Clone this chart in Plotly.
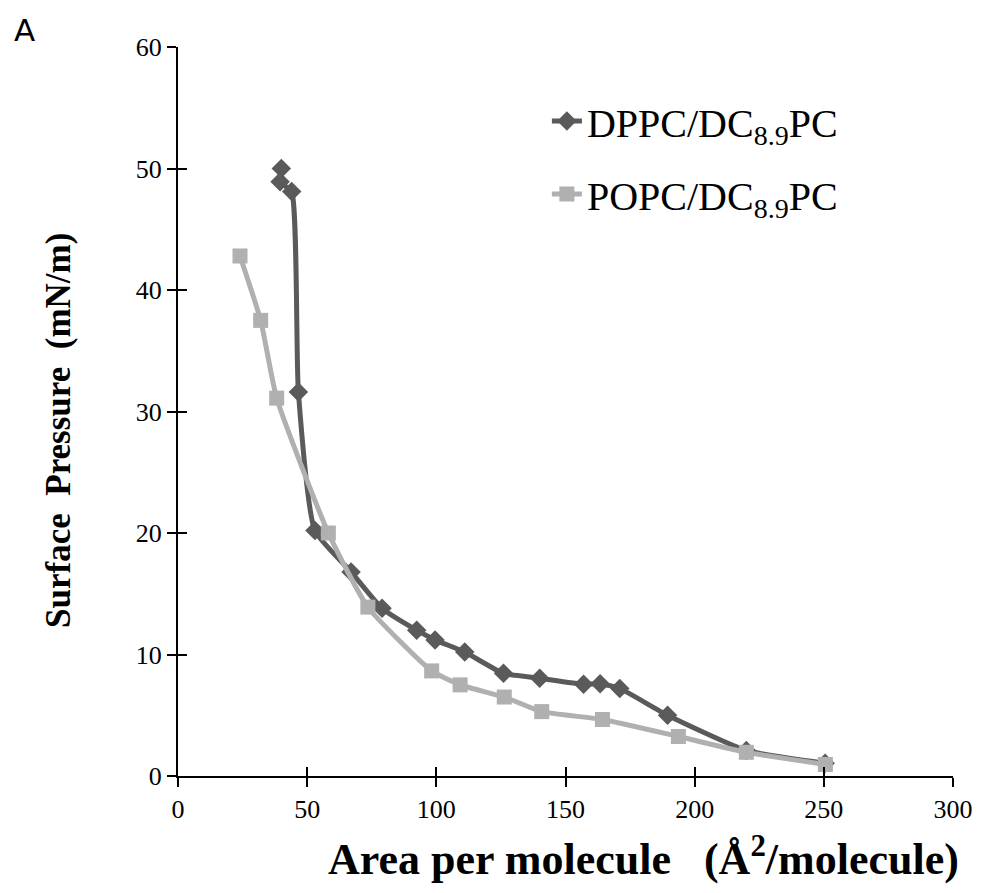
import plotly.graph_objects as go

# DPPC/DC8,9PC
dppc_x = [40, 39.5, 44, 46.6, 53, 67, 79, 92.4, 99.5, 111, 126, 140, 157, 163.4, 171, 189.5, 220, 250.5]
dppc_y = [50, 48.9, 48.1, 31.6, 20.2, 16.8, 13.8, 12.0, 11.2, 10.2, 8.45, 8.05, 7.55, 7.6, 7.2, 5.0, 2.1, 1.05]

# POPC/DC8,9PC
popc_x = [24, 32, 38.2, 58.2, 73.5, 98.2, 109.2, 126.3, 140.8, 164.3, 193.7, 220, 250.6]
popc_y = [42.8, 37.5, 31.1, 20.0, 13.9, 8.65, 7.5, 6.5, 5.3, 4.65, 3.25, 1.95, 0.95]

x_ticks = [0, 50, 100, 150, 200, 250, 300]
y_ticks = [0, 10, 20, 30, 40, 50, 60]

x_title = "<b>Area per molecule&nbsp;&nbsp;&nbsp;(Å<sup>2</sup>/molecule)</b>"
y_title = "<b>Surface&nbsp; Pressure&nbsp; (mN/m)</b>"

dark = "#5a5a5a"
light = "#b0b0b0"
serif = "Liberation Serif, Times New Roman, serif"

fig = go.Figure()
fig.add_trace(go.Scatter(
    x=dppc_x, y=dppc_y, mode="lines+markers", name="DPPC/DC<sub>8.9</sub>PC",
    line=dict(color=dark, width=5, shape="spline", smoothing=0.5),
    marker=dict(symbol="diamond", size=15, color=dark),
    legendgroup="a"))
fig.add_trace(go.Scatter(
    x=popc_x, y=popc_y, mode="lines+markers", name="POPC/DC<sub>8.9</sub>PC",
    line=dict(color=light, width=5, shape="spline", smoothing=0.5),
    marker=dict(symbol="square", size=15, color=light),
    legendgroup="b"))
# invisible trace on the overlay axes (for crossing tick marks)
fig.add_trace(go.Scatter(x=[0], y=[0], xaxis="x2", yaxis="y2", mode="markers",
                         marker=dict(opacity=0), showlegend=False, hoverinfo="skip"))

axis_common = dict(showgrid=False, zeroline=False, showline=True, linecolor="black",
                   linewidth=2, ticks="outside", ticklen=9, tickwidth=2, tickcolor="black",
                   tickfont=dict(family=serif, size=26, color="black"))

fig.update_layout(
    width=984, height=893,
    margin=dict(l=178, r=31, t=47, b=117),
    plot_bgcolor="white", paper_bgcolor="white",
    xaxis=dict(range=[0, 300], tickvals=x_ticks, **axis_common),
    yaxis=dict(range=[0, 60], tickvals=y_ticks, **axis_common),
    xaxis2=dict(range=[0, 300], tickvals=x_ticks, overlaying="x", showticklabels=False,
                showgrid=False, zeroline=False, showline=False, ticks="inside", ticklen=9,
                tickwidth=2, tickcolor="black", anchor="y2"),
    yaxis2=dict(range=[0, 60], tickvals=y_ticks, overlaying="y", showticklabels=False,
                showgrid=False, zeroline=False, showline=False, ticks="inside", ticklen=9,
                tickwidth=2, tickcolor="black", anchor="x2"),
    legend=dict(x=0.476, y=0.943, xanchor="left", yanchor="top",
                font=dict(family=serif, size=40, color="black"),
                bgcolor="rgba(0,0,0,0)", tracegroupgap=18, traceorder="grouped"),
    showlegend=True,
)
fig.add_annotation(text=x_title, xref="paper", yref="paper", x=0.6, y=-0.111,
                   xanchor="center", yanchor="middle", showarrow=False,
                   font=dict(family=serif, size=44, color="black"))
fig.add_annotation(text=y_title, xref="paper", yref="paper", x=-0.155, y=0.4746,
                   xanchor="center", yanchor="middle", showarrow=False, textangle=-90,
                   font=dict(family=serif, size=35, color="black"))
fig.add_annotation(text="A", xref="paper", yref="paper", x=-0.214, y=1.023,
                   xanchor="left", yanchor="middle", showarrow=False,
                   font=dict(family="DejaVu Sans, sans-serif", size=31, color="black"))

fig.write_html("out.html")
